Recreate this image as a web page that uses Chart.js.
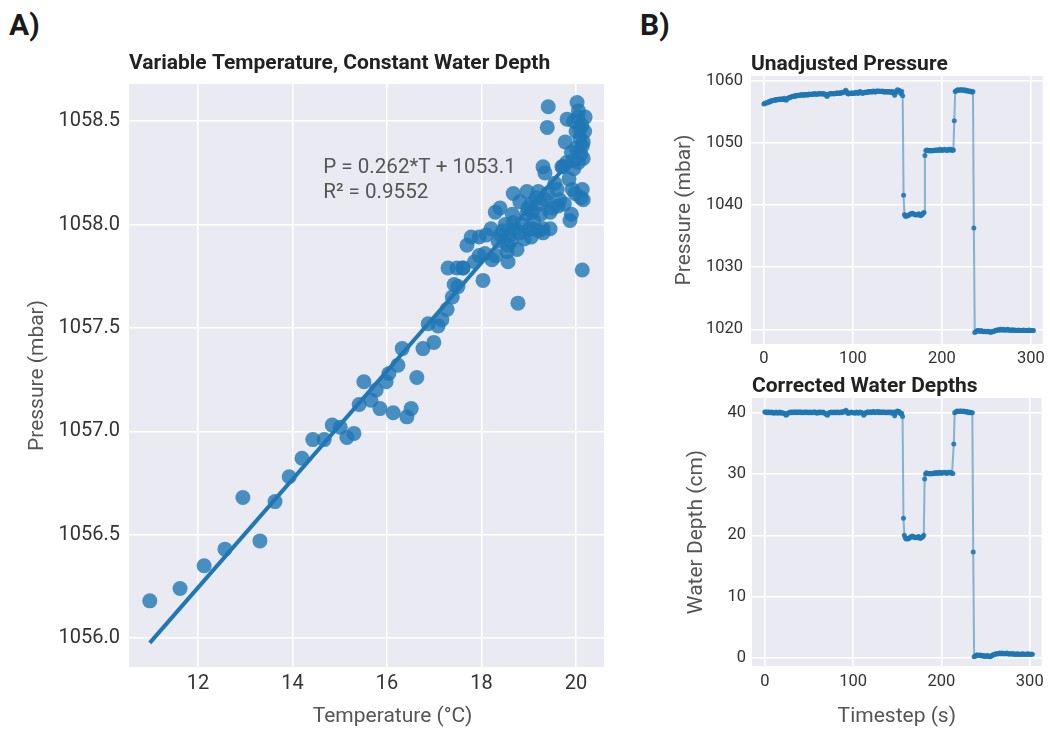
<!DOCTYPE html>
<html>
<head>
<meta charset="utf-8">
<script src="https://cdn.jsdelivr.net/npm/chart.js@4.4.1/dist/chart.umd.min.js"></script>
<style>
  body { margin: 0; background: #fff; }
  #fig { position: relative; width: 1050px; height: 729px; overflow: hidden; }
  #fig canvas { position: absolute; }
  .panel { position: absolute; font: bold 30px Roboto, sans-serif; color: #1a1a1a; line-height: 36px; }
</style>
</head>
<body>
<div id="fig">
  <div class="panel" style="left:9px; top:7px;">A)</div>
  <div class="panel" style="left:640px; top:7px;">B)</div>
  <canvas id="tempChart" width="620" height="729" style="left:0; top:0;"></canvas>
  <canvas id="pressChart" width="410" height="330" style="left:640px; top:40px;"></canvas>
  <canvas id="depthChart" width="410" height="379" style="left:640px; top:350px;"></canvas>
</div>
<script>
// A) sensor readings at constant depth while the water warms up
var tempC = [
  10.98, 11.62, 12.13, 12.57, 12.95, 13.31, 13.63, 13.93, 14.20, 14.43,
  14.67, 14.84, 15.01, 15.15, 15.30, 15.41, 15.51, 15.66, 15.77, 15.85,
  15.98, 16.04, 16.13, 16.23, 16.32, 16.42, 16.51, 16.63, 16.76, 16.87,
  16.99, 17.08, 17.16, 17.27, 17.42, 17.29, 17.48, 17.61, 17.69, 17.78,
  17.95, 18.03, 18.07, 18.22, 18.29, 18.39, 18.54, 18.56, 18.67, 18.77,
  18.81, 18.67, 18.96, 19.07, 19.09, 19.20, 19.30, 19.30, 19.34, 19.41,
  19.39, 19.45, 19.60, 19.62, 19.72, 19.77, 19.81, 19.87, 19.92, 19.94,
  20.02, 20.04, 20.08, 20.13, 20.13, 20.15, 20.13, 20.15, 20.19,
  18.10, 18.20, 18.35, 18.45, 18.50, 18.60, 18.65, 18.70, 18.85, 18.90,
  18.95, 19.00, 19.05, 19.10, 19.15, 19.25, 19.30, 19.35, 19.40, 19.50,
  19.55, 19.65, 19.70, 19.75, 19.80, 19.85, 19.90, 19.95, 20.00, 20.05,
  20.08, 20.10, 20.12, 20.15, 20.18, 20.00, 19.95, 20.05, 20.10, 19.98,
  19.90, 19.45, 19.20, 18.75, 18.55, 18.30, 17.95, 17.85, 17.60, 17.50,
  17.38, 18.40, 18.80, 19.05, 19.25, 18.62, 18.98
];
var pressMbar = [
  1056.18, 1056.24, 1056.35, 1056.43, 1056.68, 1056.47, 1056.66, 1056.78, 1056.87, 1056.96,
  1056.96, 1057.03, 1057.02, 1056.97, 1056.99, 1057.13, 1057.24, 1057.15, 1057.20, 1057.11,
  1057.24, 1057.28, 1057.09, 1057.32, 1057.40, 1057.07, 1057.11, 1057.26, 1057.40, 1057.52,
  1057.43, 1057.51, 1057.54, 1057.59, 1057.71, 1057.79, 1057.79, 1057.79, 1057.90, 1057.94,
  1057.94, 1057.73, 1057.86, 1057.83, 1058.06, 1058.08, 1057.87, 1057.82, 1058.15, 1057.62,
  1058.11, 1058.01, 1058.16, 1058.06, 1057.98, 1058.16, 1057.96, 1058.28, 1058.25, 1058.57,
  1058.47, 1058.06, 1058.17, 1058.09, 1058.28, 1058.40, 1058.51, 1058.02, 1058.17, 1058.31,
  1058.59, 1058.52, 1058.46, 1058.38, 1058.17, 1058.12, 1057.78, 1058.32, 1058.52,
  1057.95, 1057.98, 1057.92, 1057.97, 1058.00, 1057.95, 1058.05, 1057.98, 1058.00, 1057.93,
  1058.05, 1057.98, 1058.10, 1058.02, 1058.13, 1058.05, 1057.98, 1058.12, 1058.15, 1058.08,
  1058.20, 1058.12, 1058.28, 1058.10, 1058.30, 1058.22, 1058.35, 1058.27, 1058.37, 1058.30,
  1058.42, 1058.34, 1058.48, 1058.40, 1058.45, 1058.45, 1058.50, 1058.55, 1058.13, 1058.15,
  1058.05, 1057.98, 1057.97, 1057.88, 1057.90, 1057.85, 1057.85, 1057.82, 1057.79, 1057.70,
  1057.65, 1057.95, 1057.96, 1057.94, 1058.10, 1057.92, 1058.08
];
// least squares fit printed on the plot
var fitSlope = 0.262;
var fitIntercept = 1053.1;
var fitR2 = 0.9552;

// B) one sample per second while the sensor is moved between depths
var pressureMbar = [
  1056.3, 1056.4, 1056.4, 1056.5, 1056.5, 1056.6, 1056.7, 1056.6, 1056.8, 1056.8,
  1056.8, 1056.9, 1056.9, 1057.0, 1056.9, 1057.0, 1057.0, 1057.1, 1057.0, 1057.1,
  1057.1, 1057.0, 1057.1, 1057.2, 1057.0, 1056.9, 1057.1, 1057.2, 1057.3, 1057.3,
  1057.4, 1057.4, 1057.5, 1057.5, 1057.6, 1057.5, 1057.6, 1057.7, 1057.6, 1057.7,
  1057.7, 1057.7, 1057.8, 1057.7, 1057.7, 1057.8, 1057.7, 1057.8, 1057.8, 1057.7,
  1057.8, 1057.9, 1057.8, 1057.8, 1057.9, 1057.8, 1057.9, 1058.0, 1057.9, 1057.8,
  1057.9, 1057.9, 1058.0, 1057.9, 1058.0, 1057.9, 1057.9, 1058.0, 1057.9, 1057.8,
  1057.7, 1057.5, 1057.8, 1057.9, 1057.9, 1058.0, 1057.9, 1058.0, 1058.0, 1057.9,
  1058.0, 1058.0, 1058.1, 1058.0, 1058.0, 1058.1, 1058.0, 1058.1, 1058.1, 1058.2,
  1058.2, 1058.3, 1058.5, 1058.3, 1058.0, 1057.9, 1058.0, 1058.0, 1058.1, 1058.0,
  1058.0, 1058.1, 1058.0, 1058.1, 1058.2, 1058.1, 1058.0, 1058.2, 1058.3, 1058.2,
  1058.1, 1058.0, 1058.1, 1058.2, 1058.2, 1058.1, 1058.2, 1058.3, 1058.2, 1058.3,
  1058.3, 1058.2, 1058.3, 1058.4, 1058.3, 1058.2, 1058.3, 1058.4, 1058.4, 1058.3,
  1058.4, 1058.3, 1058.3, 1058.4, 1058.3, 1058.2, 1058.3, 1058.3, 1058.2, 1058.3,
  1058.3, 1058.2, 1058.3, 1058.2, 1058.1, 1058.3, 1058.2, 1057.7, 1058.1, 1058.3,
  1058.6, 1058.4, 1058.5, 1058.2, 1058.0, 1058.3, 1057.6, 1041.6, 1038.5, 1038.2,
  1038.2, 1038.3, 1038.3, 1038.4, 1038.5, 1038.6, 1038.6, 1038.7, 1038.6, 1038.5,
  1038.4, 1038.5, 1038.4, 1038.5, 1038.6, 1038.5, 1038.3, 1038.4, 1038.5, 1038.7,
  1038.8, 1048.0, 1048.8, 1048.9, 1048.8, 1048.8, 1048.7, 1048.8, 1048.8, 1048.7,
  1048.8, 1048.8, 1048.9, 1048.8, 1048.9, 1048.9, 1048.8, 1048.9, 1049.0, 1048.9,
  1048.8, 1048.9, 1048.9, 1049.0, 1048.9, 1048.9, 1048.8, 1048.9, 1049.0, 1048.9,
  1049.0, 1048.9, 1048.8, 1048.9, 1053.6, 1058.3, 1058.4, 1058.5, 1058.6, 1058.5,
  1058.5, 1058.6, 1058.6, 1058.5, 1058.5, 1058.6, 1058.5, 1058.4, 1058.5, 1058.4,
  1058.4, 1058.3, 1058.4, 1058.3, 1058.2, 1058.3, 1036.3, 1019.5, 1019.6, 1019.7,
  1019.8, 1019.8, 1019.7, 1019.7, 1019.8, 1019.7, 1019.7, 1019.6, 1019.7, 1019.6,
  1019.6, 1019.6, 1019.7, 1019.6, 1019.6, 1019.5, 1019.6, 1019.6, 1019.7, 1019.7,
  1019.8, 1019.8, 1019.9, 1019.9, 1019.9, 1019.9, 1020.0, 1019.9, 1019.9, 1020.0,
  1019.9, 1019.9, 1019.9, 1019.9, 1020.0, 1019.9, 1019.9, 1019.8, 1019.9, 1019.9,
  1019.9, 1019.8, 1019.9, 1019.8, 1019.8, 1019.8, 1019.9, 1019.8, 1019.8, 1019.8,
  1019.8, 1019.8, 1019.9, 1019.8, 1019.8, 1019.8, 1019.8, 1019.8, 1019.9, 1019.8,
  1019.8, 1019.8, 1019.8, 1019.8
];
var depthCm = [
  40.1, 40.1, 40.0, 40.1, 40.0, 40.1, 40.0, 40.0, 40.1, 40.0,
  39.9, 40.0, 40.0, 40.1, 39.9, 40.0, 40.0, 40.1, 39.9, 40.0,
  40.0, 39.9, 39.9, 39.8, 39.6, 39.7, 39.9, 40.0, 40.0, 40.1,
  40.0, 40.1, 40.0, 40.1, 40.1, 40.0, 40.1, 40.1, 40.0, 40.1,
  40.1, 40.0, 40.1, 40.0, 40.0, 40.1, 40.1, 40.0, 40.1, 40.0,
  40.0, 40.1, 40.0, 40.0, 40.1, 40.0, 40.1, 40.1, 40.0, 39.9,
  40.0, 40.1, 40.0, 40.1, 40.0, 40.0, 40.1, 40.0, 39.9, 39.8,
  39.7, 39.6, 39.9, 40.0, 40.0, 40.1, 40.0, 40.0, 40.1, 40.0,
  40.0, 40.1, 40.0, 40.1, 40.0, 40.0, 40.1, 40.0, 40.1, 40.2,
  40.1, 40.2, 40.4, 40.1, 39.9, 39.9, 40.0, 40.0, 40.1, 40.0,
  40.0, 40.0, 39.9, 40.0, 40.1, 40.0, 39.9, 40.0, 40.1, 40.0,
  40.0, 39.9, 39.6, 39.8, 40.0, 40.0, 40.1, 40.1, 40.0, 40.1,
  40.1, 40.0, 40.1, 40.2, 40.1, 40.0, 40.1, 40.1, 40.2, 40.0,
  40.1, 40.1, 40.0, 40.1, 40.1, 40.0, 40.1, 40.0, 40.0, 40.1,
  40.0, 40.1, 40.0, 40.1, 39.9, 40.0, 40.1, 39.5, 39.9, 40.1,
  40.3, 40.2, 40.2, 40.0, 39.8, 39.9, 39.4, 22.8, 20.0, 19.6,
  19.4, 19.5, 19.4, 19.5, 19.6, 19.7, 19.8, 19.9, 19.8, 19.7,
  19.6, 19.7, 19.6, 19.7, 19.8, 19.7, 19.5, 19.6, 19.7, 19.8,
  20.0, 29.2, 30.0, 30.2, 30.1, 30.1, 30.0, 30.1, 30.1, 30.0,
  30.1, 30.1, 30.2, 30.1, 30.2, 30.2, 30.1, 30.2, 30.3, 30.2,
  30.1, 30.2, 30.2, 30.3, 30.2, 30.2, 30.1, 30.2, 30.3, 30.2,
  30.3, 30.2, 30.1, 30.1, 34.9, 40.0, 40.1, 40.2, 40.3, 40.2,
  40.2, 40.3, 40.3, 40.2, 40.2, 40.3, 40.2, 40.1, 40.2, 40.1,
  40.1, 40.0, 40.1, 40.0, 40.0, 40.0, 17.3, 0.2, 0.3, 0.4,
  0.5, 0.5, 0.4, 0.4, 0.5, 0.4, 0.4, 0.3, 0.4, 0.3,
  0.3, 0.3, 0.4, 0.3, 0.3, 0.2, 0.3, 0.4, 0.5, 0.5,
  0.6, 0.6, 0.7, 0.7, 0.7, 0.7, 0.8, 0.7, 0.7, 0.8,
  0.7, 0.7, 0.7, 0.7, 0.8, 0.7, 0.7, 0.6, 0.7, 0.7,
  0.7, 0.6, 0.7, 0.6, 0.6, 0.6, 0.7, 0.6, 0.6, 0.6,
  0.6, 0.6, 0.7, 0.6, 0.6, 0.6, 0.6, 0.6, 0.7, 0.6,
  0.6, 0.6, 0.6, 0.6
];

var BLUE = '#1f77b4';
var TICK_COLOR = '#333333';
var LABEL_COLOR = '#555555';
var FONT = 'Roboto';

// seaborn-ish grey panel behind the grid
var plotBg = {
  id: 'plotBg',
  beforeDraw: function(chart) {
    var a = chart.chartArea, ctx = chart.ctx;
    ctx.save();
    ctx.fillStyle = '#eaeaf2';
    ctx.fillRect(a.left, a.top, a.right - a.left, a.bottom - a.top);
    ctx.restore();
  }
};

// equation + R² text for the regression, and the temperature axis label
// which sits a little right of centre
var fitLabel = {
  id: 'fitLabel',
  afterDraw: function(chart) {
    var ctx = chart.ctx, a = chart.chartArea;
    var x = chart.scales.x.getPixelForValue(14.65);
    var y = chart.scales.y.getPixelForValue(1058.276);
    ctx.save();
    ctx.fillStyle = LABEL_COLOR;
    ctx.textBaseline = 'middle';
    ctx.font = '20.6px ' + FONT;
    ctx.textAlign = 'left';
    ctx.fillText('P = ' + fitSlope + '*T + ' + fitIntercept, x, y);
    ctx.fillText('R\u00b2 = ' + fitR2, x, y + 25);
    ctx.font = '21px ' + FONT;
    ctx.textAlign = 'center';
    ctx.fillText('Temperature (\u00b0C)', (a.left + a.right) / 2 + 26, chart.height - 12);
    ctx.restore();
  }
};

function titleOpts(text, padTop, padBottom) {
  return {
    display: true, text: text, align: 'start', fullSize: false, color: '#222',
    font: { family: FONT, size: 21, weight: 'bold', lineHeight: 1 },
    padding: { top: padTop, bottom: padBottom }
  };
}

function axis(o) {
  return {
    type: 'linear', min: o.min, max: o.max,
    border: { display: false },
    grid: { color: '#ffffff', lineWidth: 1.5, drawTicks: false },
    ticks: {
      stepSize: o.step, includeBounds: false, autoSkip: false, maxRotation: 0,
      padding: o.pad, color: TICK_COLOR, font: { family: FONT, size: o.fontSize },
      callback: o.fmt || function(v) { return String(v); }
    },
    title: o.title ? {
      display: true, text: o.title, color: LABEL_COLOR,
      font: { family: FONT, size: 21, lineHeight: 1.2 },
      padding: o.titlePad
    } : { display: false },
    afterFit: function(s) {
      if (o.width) s.width = o.width;
      if (o.height) s.height = o.height;
    }
  };
}

var common = {
  responsive: false, animation: false, devicePixelRatio: 1, events: []
};

// A) scatter with regression line
var tempPoints = tempC.map(function(t, i) { return { x: t, y: pressMbar[i] }; });
var tLo = Math.min.apply(null, tempC), tHi = Math.max.apply(null, tempC);
var fitLine = [
  { x: tLo, y: fitSlope * tLo + fitIntercept },
  { x: tHi, y: fitSlope * tHi + fitIntercept }
];

new Chart(document.getElementById('tempChart'), {
  type: 'scatter',
  data: {
    datasets: [{
      data: tempPoints, order: 1,
      backgroundColor: 'rgba(31,119,180,0.8)', borderWidth: 0,
      pointRadius: 7.5, pointHoverRadius: 7.5
    }, {
      data: fitLine, order: 0, showLine: true,
      borderColor: BLUE, borderWidth: 4, pointRadius: 0
    }]
  },
  options: Object.assign({}, common, {
    layout: { padding: { right: 16 } },
    plugins: {
      legend: { display: false }, tooltip: { enabled: false },
      title: titleOpts('Variable Temperature, Constant Water Depth', 53, 10)
    },
    scales: {
      x: axis({ min: 10.54, max: 20.59, step: 2, pad: 5, fontSize: 20, height: 62 }),
      y: axis({ min: 1055.86, max: 1058.68, step: 0.5, pad: 9, fontSize: 20, width: 129,
                fmt: function(v) { return v.toFixed(1); },
                title: 'Pressure (mbar)', titlePad: { top: 25, bottom: 0 } })
    }
  }),
  plugins: [plotBg, fitLabel]
});

// B) time series panels
function seriesDataset(values) {
  return {
    data: values.map(function(v, i) { return { x: i, y: v }; }),
    borderColor: 'rgba(31,119,180,0.5)', borderWidth: 2,
    pointRadius: 2.5, pointBackgroundColor: 'rgba(31,119,180,0.9)', pointBorderWidth: 0,
    pointHoverRadius: 2.5
  };
}

new Chart(document.getElementById('pressChart'), {
  type: 'line',
  data: { datasets: [seriesDataset(pressureMbar)] },
  options: Object.assign({}, common, {
    layout: { padding: { right: 5 } },
    plugins: {
      legend: { display: false }, tooltip: { enabled: false },
      title: titleOpts('Unadjusted Pressure', 14.5, 0.5)
    },
    scales: {
      x: axis({ min: -14.5, max: 313.4, step: 100, pad: 5, fontSize: 16.5, height: 26 }),
      y: axis({ min: 1017.63, max: 1060.8, step: 10, pad: 8, fontSize: 16.5, width: 111,
                title: 'Pressure (mbar)', titlePad: { top: 32, bottom: 0 } })
    }
  }),
  plugins: [plotBg]
});

new Chart(document.getElementById('depthChart'), {
  type: 'line',
  data: { datasets: [seriesDataset(depthCm)] },
  options: Object.assign({}, common, {
    layout: { padding: { right: 5 } },
    plugins: {
      legend: { display: false }, tooltip: { enabled: false },
      title: titleOpts('Corrected Water Depths', 26.5, 0.5)
    },
    scales: {
      x: axis({ min: -14.5, max: 313.4, step: 100, pad: 6, fontSize: 16.5, height: 63,
                title: 'Timestep (s)', titlePad: { top: 0, bottom: 0 } }),
      y: axis({ min: -1.3, max: 42.4, step: 10, pad: 6, fontSize: 16.5, width: 112,
                title: 'Water Depth (cm)', titlePad: { top: 44, bottom: 0 } })
    }
  }),
  plugins: [plotBg]
});
</script>
</body>
</html>
